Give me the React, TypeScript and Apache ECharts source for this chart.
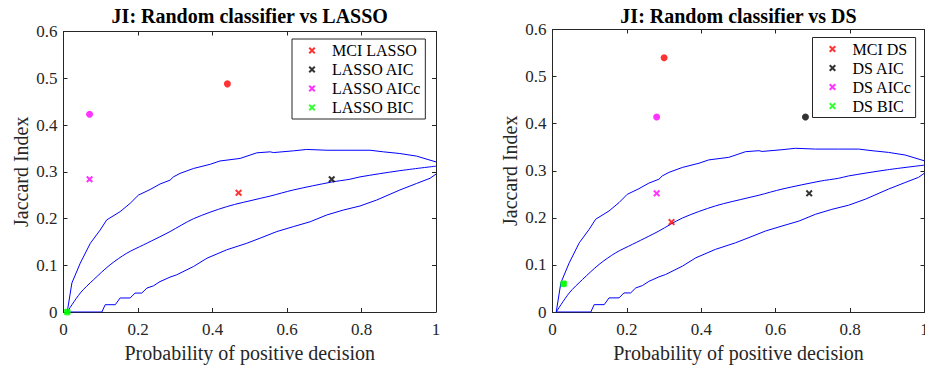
import React, { useEffect, useRef } from "react";
import * as echarts from "echarts";

const FONT = "'Liberation Serif', 'Times New Roman', Times, serif";
const AXIS_COLOR = "#262626";
const XMARK = "path://M0,2L2,0L5,3L8,0L10,2L7,5L10,8L8,10L5,7L2,10L0,8L3,5Z";

// Axis ticks
const xTicks = [0, 0.2, 0.4, 0.6, 0.8, 1];
const yTicks = [0, 0.1, 0.2, 0.3, 0.4, 0.5, 0.6];

// Random-classifier curves, shared by both panels
const upperBand: number[][] = [
  [0.01, 0], [0.0225, 0.062], [0.045, 0.1045], [0.072, 0.147], [0.0985, 0.1755], [0.116, 0.197],
  [0.152, 0.2146], [0.179, 0.2325], [0.201, 0.25], [0.2326, 0.262], [0.259, 0.2737], [0.286, 0.282],
  [0.295, 0.289], [0.313, 0.2965], [0.349, 0.307], [0.394, 0.316], [0.42, 0.323], [0.474, 0.3285],
  [0.519, 0.3405], [0.555, 0.3426], [0.5635, 0.341], [0.617, 0.3447], [0.653, 0.3477], [0.707, 0.346],
  [0.769, 0.346], [0.823, 0.346], [0.859, 0.3426], [0.903, 0.339], [0.948, 0.3334], [1.0, 0.321],
];
const meanCurve: number[][] = [
  [0.01, 0], [0.045, 0.0405], [0.0805, 0.0689], [0.125, 0.1009], [0.17, 0.1258], [0.2147, 0.1436],
  [0.259, 0.161], [0.286, 0.172], [0.349, 0.1995], [0.438, 0.2253], [0.528, 0.243], [0.555, 0.248],
  [0.617, 0.261], [0.72, 0.278], [0.769, 0.284], [0.796, 0.289], [0.9, 0.302], [1.0, 0.312],
];
const lowerBand: number[][] = [
  [0.01, 0], [0.103, 0], [0.112, 0.0156], [0.139, 0.0156], [0.152, 0.03], [0.179, 0.03], [0.192, 0.0405],
  [0.21, 0.0405], [0.224, 0.0512], [0.2415, 0.056], [0.259, 0.065], [0.286, 0.0746], [0.304, 0.0796],
  [0.349, 0.0973], [0.385, 0.115], [0.438, 0.133], [0.492, 0.147], [0.528, 0.158], [0.5725, 0.172],
  [0.617, 0.1826], [0.662, 0.193], [0.707, 0.2076], [0.751, 0.218], [0.796, 0.2268], [0.841, 0.2396],
  [0.903, 0.261], [0.948, 0.275], [0.984, 0.286], [1.0, 0.295],
];

// Panel 1: LASSO
const lassoNames = ["MCI LASSO", "LASSO AIC", "LASSO AICc", "LASSO BIC"];
const lassoCross: number[][][] = [[[0.47, 0.255]], [[0.72, 0.284]], [[0.07, 0.284]], [[0.01, 0]]];
const lassoDot: number[][][] = [[[0.44, 0.488]], [], [[0.07, 0.423]], [[0.01, 0]]];

// Panel 2: DS
const dsNames = ["MCI DS", "DS AIC", "DS AICc", "DS BIC"];
const dsCross: number[][][] = [[[0.32, 0.191]], [[0.69, 0.252]], [[0.28, 0.252]], [[0.03, 0.06]]];
const dsDot: number[][][] = [[[0.3, 0.54]], [[0.68, 0.414]], [[0.28, 0.414]], [[0.03, 0.06]]];

const markColors = ["#ff0000", "#000000", "#ff00ff", "#00ff00"];
const titles = ["JI: Random classifier vs LASSO", "JI: Random classifier vs DS"];

export default function App() {
  const ref = useRef<HTMLDivElement>(null);

  useEffect(() => {
    if (!ref.current) return;
    const chart = echarts.init(ref.current, undefined, { renderer: "svg" });

    const grids = [
      { left: 63.5, top: 31.5, width: 372.5, height: 280.5, outerBoundsMode: "none", containLabel: false },
      { left: 552.5, top: 29.5, width: 372, height: 282.5, outerBoundsMode: "none", containLabel: false },
    ];

    const axisLine = { show: true, onZero: false, lineStyle: { color: AXIS_COLOR, width: 1 } };
    const axisTick = { show: true, inside: true, length: 4, lineStyle: { color: AXIS_COLOR, width: 1 } };
    const labelStyle = { fontSize: 17, fontFamily: FONT, color: AXIS_COLOR };
    const nameStyle = { fontSize: 20, fontFamily: FONT, color: AXIS_COLOR };

    const xAxis: any[] = [];
    const yAxis: any[] = [];
    [0, 1].forEach((g) => {
      const xBase = { type: "value", gridIndex: g, min: xTicks[0], max: xTicks[xTicks.length - 1], interval: 0.2, splitLine: { show: false }, axisLine, axisTick };
      const yBase = { type: "value", gridIndex: g, min: yTicks[0], max: yTicks[yTicks.length - 1], interval: 0.1, splitLine: { show: false }, axisLine, axisTick };
      xAxis.push({
        ...xBase, position: "bottom",
        name: "Probability of positive decision", nameLocation: "middle", nameGap: 29, nameTextStyle: nameStyle,
        axisLabel: { ...labelStyle, margin: 9, hideOverlap: false },
      });
      xAxis.push({ ...xBase, position: "top", axisLabel: { show: false } });
      yAxis.push({
        ...yBase, position: "left",
        name: "Jaccard Index", nameLocation: "middle", nameGap: 33, nameTextStyle: nameStyle,
        axisLabel: { ...labelStyle, margin: 6 },
      });
      yAxis.push({ ...yBase, position: "right", axisLabel: { show: false } });
    });

    const series: any[] = [];
    const panels = [
      { names: lassoNames, cross: lassoCross, dot: lassoDot },
      { names: dsNames, cross: dsCross, dot: dsDot },
    ];
    panels.forEach((p, g) => {
      const ax = { xAxisIndex: g * 2, yAxisIndex: g * 2 };
      [upperBand, meanCurve, lowerBand].forEach((d, i) => {
        series.push({
          type: "line", ...ax, data: d, symbol: "none", silent: true, z: 2,
          smooth: i === 1 ? 0.3 : false,
          lineStyle: { color: "#0000ff", width: 1 },
        });
      });
      p.names.forEach((n, i) => {
        series.push({
          type: "scatter", name: n, ...ax, data: p.cross[i], symbol: XMARK, symbolSize: 7, z: 3,
          itemStyle: { color: markColors[i] },
        });
        series.push({
          type: "scatter", name: n + " (point)", ...ax, data: p.dot[i], symbol: "circle", symbolSize: 7, z: 4,
          itemStyle: { color: markColors[i] },
        });
      });
    });

    const legendBase = {
      orient: "vertical", itemGap: 0, itemWidth: 7, itemHeight: 7, icon: XMARK,
      padding: [2, 4, 2, 16.5], borderColor: AXIS_COLOR, borderWidth: 1, backgroundColor: "#ffffff",
      selectedMode: false,
      textStyle: { fontSize: 16, lineHeight: 19, fontFamily: FONT, color: "#000", padding: [0, 0, 0, 11.5] },
    };

    chart.setOption({
      animation: false,
      backgroundColor: "#ffffff",
      textStyle: { fontFamily: FONT },
      title: titles.map((t, g) => ({
        text: t, left: grids[g].left + grids[g].width / 2, top: 6, textAlign: "center", padding: 0,
        textStyle: { fontSize: 20, fontWeight: "bold", fontFamily: FONT, color: "#000" },
      })),
      grid: grids,
      xAxis, yAxis,
      legend: [
        { ...legendBase, data: lassoNames, left: 292, top: 39 },
        { ...legendBase, data: dsNames, left: 812.5, top: 37.5 },
      ],
      series,
    });

    return () => chart.dispose();
  }, []);

  return <div ref={ref} style={{ position: "absolute", left: 0, top: 0, width: 925, height: 367 }} />;
}
